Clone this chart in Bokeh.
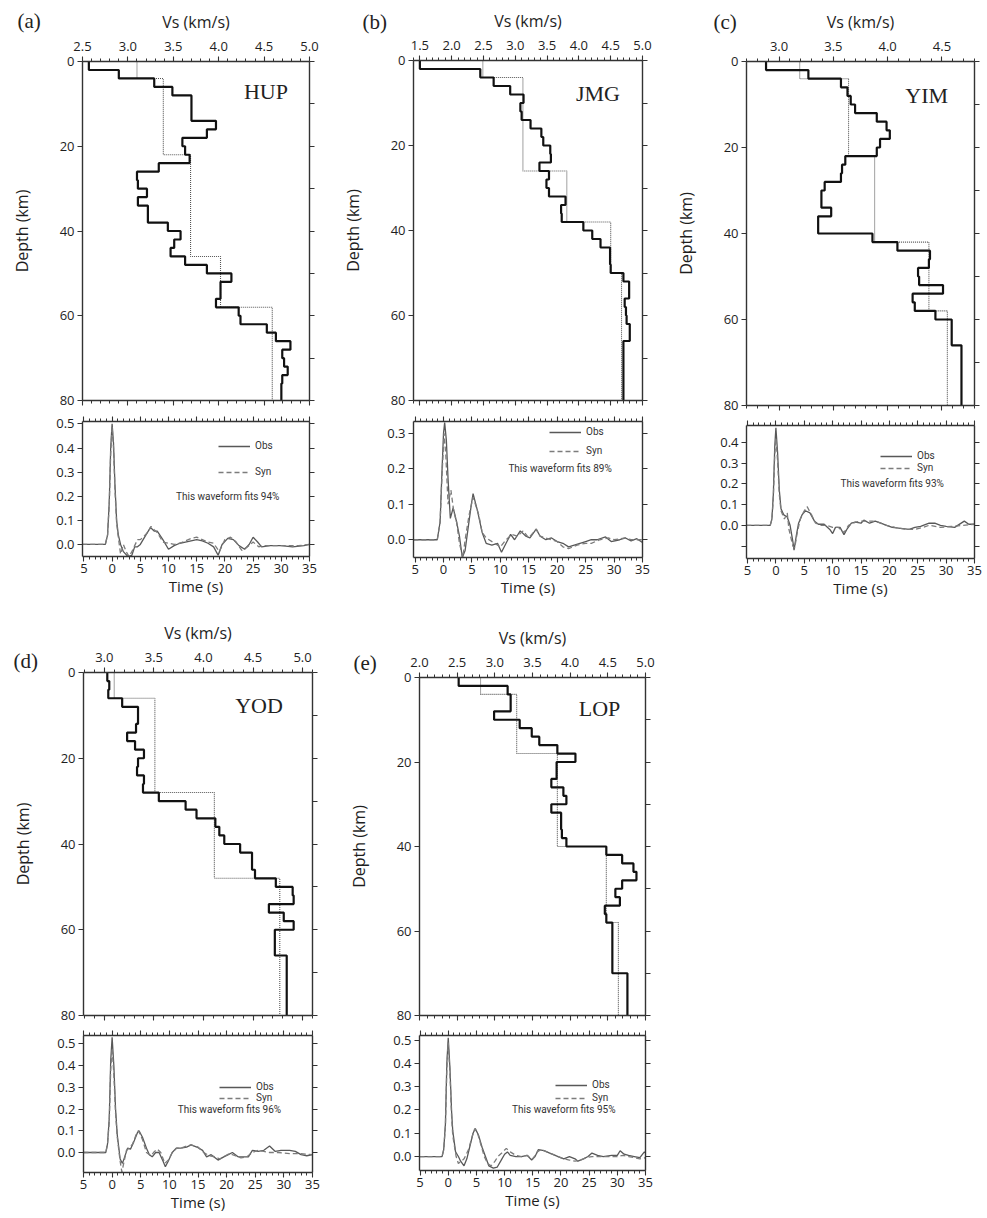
from bokeh.plotting import figure
from bokeh.layouts import row, column
from bokeh.models import (Range1d, LinearAxis, SingleIntervalTicker, FixedTicker,
                          CustomJSTickFormatter, CustomLabelingPolicy, Label, Legend, LegendItem)
from bokeh.embed import file_html
from bokeh.resources import INLINE

# ======================= DATA =======================
DEPTH_TICKS = [0, 20, 40, 60, 80]
DEPTH_RIGHT_TICKS = [0, 10, 20, 30, 40, 50, 60, 70, 80]
MODEL_BOTTOM = 80

# ---- (a) HUP ----
hup_obs_top = [0, 2, 4, 6, 8, 14, 16, 18, 20, 22, 24, 26, 28, 30, 32, 34, 38, 40, 42, 44, 46, 48, 50, 52, 56, 58, 60, 62, 64, 66, 68, 70, 72, 74, 76]
hup_obs_vs = [2.57, 2.90, 3.29, 3.49, 3.70, 3.97, 3.87, 3.60, 3.63, 3.68, 3.34, 3.10, 3.11, 3.21, 3.11, 3.22, 3.44, 3.58, 3.51, 3.47, 3.63, 3.87, 4.14, 4.02, 3.97, 4.22, 4.24, 4.53, 4.63, 4.79, 4.70, 4.72, 4.76, 4.70, 4.69]
hup_syn_top = [0, 4, 22, 46, 58]
hup_syn_vs = [3.10, 3.39, 3.69, 4.02, 4.59]
hup_t_obs = [-5.3, -1.2, -0.8, -0.5, -0.25, 0.0, 0.25, 0.5, 0.8, 1.1, 1.5, 2.0, 2.8, 3.5, 4.0, 4.5, 5.0, 6.0, 6.8, 7.5, 8.0, 9.0, 10.0, 11.0, 12.0, 13.0, 14.0, 15.0, 16.0, 17.0, 18.0, 18.8, 19.5, 20.5, 21.5, 22.5, 23.5, 24.3, 25.0, 25.8, 26.5, 28.0, 30.0, 32.0, 34.0, 35.0]
hup_a_obs = [0, 0, 0.04, 0.18, 0.40, 0.50, 0.42, 0.25, 0.10, 0.04, 0.0, -0.03, -0.05, -0.045, -0.01, -0.01, 0.0, 0.04, 0.07, 0.055, 0.055, 0.02, -0.02, -0.005, 0.005, 0.01, 0.015, 0.02, 0.015, 0.005, -0.01, -0.045, 0.0, 0.025, 0.02, -0.005, -0.02, 0.0, 0.03, 0.01, -0.01, -0.005, -0.005, -0.01, -0.005, 0.0]
hup_t_syn = [-5.3, -1.2, -0.8, -0.5, -0.25, 0.0, 0.25, 0.5, 0.8, 1.1, 1.5, 2.0, 2.5, 3.0, 3.5, 4.5, 5.0, 5.5, 6.3, 6.9, 7.5, 8.0, 9.0, 10.0, 11.0, 12.0, 13.0, 14.0, 15.0, 16.0, 17.0, 18.0, 19.0, 20.0, 21.0, 22.0, 23.0, 24.0, 25.0, 26.0, 27.0, 30.0, 33.0, 35.0]
hup_a_syn = [0, 0, 0.04, 0.17, 0.38, 0.49, 0.40, 0.23, 0.09, 0.03, -0.04, 0.0, -0.03, -0.05, -0.03, 0.02, 0.02, 0.03, 0.05, 0.075, 0.06, 0.05, 0.01, 0.005, 0.0, 0.005, 0.015, 0.025, 0.03, 0.02, 0.01, 0.005, -0.03, 0.02, 0.03, 0.01, -0.025, -0.01, 0.01, -0.01, -0.005, -0.005, -0.005, 0.0]
hup_fit = "This waveform fits 94%"

# ---- (b) JMG ----
jmg_obs_top = [0, 2, 4, 6, 8, 10, 12, 14, 16, 18, 20, 22, 24, 26, 28, 30, 32, 34, 36, 38, 40, 42, 44, 48, 50, 52, 56, 58, 60, 62, 66]
jmg_obs_vs = [1.50, 2.45, 2.66, 2.92, 3.13, 3.08, 3.10, 3.24, 3.41, 3.44, 3.55, 3.56, 3.38, 3.53, 3.49, 3.53, 3.79, 3.72, 3.73, 4.07, 4.21, 4.34, 4.49, 4.50, 4.70, 4.79, 4.72, 4.74, 4.75, 4.80, 4.70]
jmg_syn_top = [0, 4, 26, 38, 50]
jmg_syn_vs = [2.49, 3.12, 3.81, 4.50, 4.67]
jmg_t_obs = [-5.3, -1.1, -0.6, -0.3, 0.0, 0.2, 0.5, 0.8, 1.2, 1.7, 2.3, 2.8, 3.3, 3.8, 4.3, 4.9, 5.2, 6.0, 6.8, 7.5, 8.5, 9.5, 10.2, 11.0, 11.8, 12.5, 13.5, 14.5, 15.2, 16.3, 17.0, 18.0, 19.0, 20.0, 21.0, 22.0, 23.0, 24.0, 25.0, 26.0, 27.0, 28.5, 29.5, 31.0, 32.0, 33.0, 34.0, 35.0]
jmg_a_obs = [0, 0, 0.05, 0.18, 0.30, 0.33, 0.28, 0.17, 0.06, 0.09, 0.05, 0.01, -0.05, -0.03, 0.03, 0.10, 0.13, 0.08, 0.02, -0.01, -0.015, -0.01, -0.035, -0.01, 0.015, 0.0, 0.025, 0.01, 0.005, 0.03, 0.01, 0.0, 0.005, -0.005, -0.01, -0.02, -0.015, -0.01, -0.005, 0.0, 0.0, 0.008, -0.005, 0.0, 0.005, -0.003, 0.003, -0.008]
jmg_t_syn = [-5.3, -1.1, -0.6, -0.3, 0.1, 0.4, 0.8, 1.3, 1.8, 2.3, 2.8, 3.4, 3.8, 4.5, 5.2, 6.2, 6.8, 7.5, 9.0, 10.0, 11.0, 12.0, 13.0, 14.0, 15.0, 16.3, 17.0, 18.0, 19.0, 20.0, 21.0, 22.0, 23.5, 25.0, 26.0, 27.5, 29.0, 30.0, 32.0, 33.0, 35.0]
jmg_a_syn = [0, 0, 0.05, 0.17, 0.30, 0.24, 0.10, 0.14, 0.08, 0.05, -0.01, -0.05, 0.0, 0.07, 0.12, 0.07, 0.02, 0.005, -0.01, -0.02, 0.0, 0.015, 0.01, 0.025, 0.005, 0.03, 0.01, 0.005, 0.0, -0.005, -0.02, -0.025, -0.015, -0.01, -0.01, 0.0, 0.005, 0.0, 0.005, 0.0, 0.0]
jmg_fit = "This waveform fits 89%"

# ---- (c) YIM ----
yim_obs_top = [0, 2, 4, 6, 8, 10, 12, 14, 16, 18, 20, 22, 24, 26, 28, 30, 32, 34, 36, 40, 42, 44, 46, 48, 50, 52, 54, 56, 58, 60, 66]
yim_obs_vs = [2.88, 3.27, 3.57, 3.63, 3.66, 3.70, 3.90, 3.99, 4.02, 3.93, 3.90, 3.61, 3.58, 3.57, 3.42, 3.39, 3.39, 3.48, 3.36, 3.86, 4.09, 4.39, 4.38, 4.28, 4.29, 4.51, 4.23, 4.25, 4.44, 4.59, 4.68]
yim_syn_top = [0, 4, 22, 42, 58]
yim_syn_vs = [3.19, 3.64, 3.88, 4.38, 4.55]
yim_t_obs = [-5.2, -1.0, -0.7, -0.45, -0.2, 0.0, 0.3, 0.6, 0.9, 1.4, 2.0, 2.5, 3.0, 3.2, 3.6, 4.0, 4.6, 5.2, 6.0, 6.8, 7.5, 8.5, 9.5, 10.0, 10.5, 11.3, 12.0, 12.5, 13.3, 14.0, 15.0, 15.5, 16.5, 17.5, 18.5, 19.5, 20.5, 22.0, 23.5, 24.5, 25.5, 27.0, 28.0, 29.0, 30.0, 31.5, 33.2, 34.0, 35.0]
yim_a_obs = [0, 0, 0.03, 0.15, 0.38, 0.47, 0.35, 0.17, 0.08, 0.05, 0.04, 0.0, -0.08, -0.12, -0.05, 0.01, 0.05, 0.07, 0.06, 0.02, 0.005, 0.005, -0.02, -0.04, -0.01, -0.01, -0.045, -0.02, 0.01, 0.015, 0.01, 0.025, 0.01, 0.02, 0.01, 0.0, -0.01, -0.015, -0.02, -0.01, -0.005, 0.01, 0.01, 0.0, -0.005, -0.01, 0.02, 0.005, 0.005]
yim_t_syn = [-5.2, -1.0, -0.7, -0.45, -0.2, 0.0, 0.3, 0.6, 0.9, 1.5, 2.0, 2.3, 3.0, 3.3, 3.8, 4.3, 5.0, 5.5, 6.3, 7.0, 8.0, 9.0, 10.0, 11.0, 12.0, 12.8, 14.0, 15.0, 16.0, 17.0, 18.0, 19.5, 21.0, 23.0, 24.5, 26.0, 27.0, 29.0, 31.0, 33.0, 35.0]
yim_a_syn = [0, 0, 0.03, 0.13, 0.34, 0.42, 0.31, 0.15, 0.07, 0.03, 0.06, -0.02, -0.10, -0.11, -0.03, 0.03, 0.07, 0.09, 0.05, 0.01, 0.0, 0.0, -0.01, -0.01, -0.035, 0.0, 0.015, 0.02, 0.02, 0.02, 0.015, 0.0, -0.01, -0.02, -0.02, -0.01, 0.0, -0.01, -0.005, 0.0, 0.005]
yim_fit = "This waveform fits 93%"

# ---- (d) YOD ----
yod_obs_top = [0, 2, 4, 6, 8, 12, 14, 16, 18, 20, 22, 24, 26, 28, 30, 32, 34, 36, 38, 40, 42, 46, 48, 50, 52, 54, 56, 58, 60, 66]
yod_obs_vs = [3.03, 3.05, 3.04, 3.18, 3.34, 3.32, 3.23, 3.31, 3.40, 3.34, 3.33, 3.40, 3.39, 3.55, 3.82, 3.93, 4.12, 4.16, 4.21, 4.37, 4.49, 4.52, 4.73, 4.90, 4.91, 4.66, 4.81, 4.91, 4.72, 4.84]
yod_syn_top = [0, 6, 28, 48]
yod_syn_vs = [3.10, 3.51, 4.11, 4.77]
yod_t_obs = [-5.0, -1.1, -0.8, -0.5, -0.25, 0.0, 0.3, 0.6, 0.9, 1.4, 1.8, 2.2, 2.7, 3.2, 3.8, 4.4, 4.7, 5.3, 6.0, 6.5, 7.0, 7.6, 8.2, 8.9, 9.3, 9.8, 10.5, 11.2, 12.0, 13.0, 13.8, 14.8, 15.8, 16.5, 17.3, 18.5, 19.5, 20.3, 21.0, 22.0, 23.0, 23.8, 24.5, 25.5, 26.5, 27.5, 28.5, 29.5, 31.0, 32.0, 33.0, 34.0, 35.0]
yod_a_obs = [0, 0, 0.04, 0.16, 0.42, 0.53, 0.40, 0.20, 0.08, -0.03, -0.05, -0.02, 0.02, 0.015, 0.05, 0.09, 0.10, 0.07, 0.02, -0.01, -0.02, 0.0, 0.0, -0.04, -0.065, -0.04, 0.0, 0.02, 0.02, 0.025, 0.035, 0.025, 0.01, -0.02, -0.01, -0.035, -0.02, -0.01, 0.0, -0.02, -0.02, -0.02, 0.01, 0.005, 0.01, 0.03, 0.005, 0.01, 0.01, 0.005, -0.01, -0.015, -0.01]
yod_t_syn = [-5.0, -1.1, -0.8, -0.5, -0.25, 0.0, 0.3, 0.6, 0.9, 1.4, 1.7, 2.1, 2.5, 3.0, 3.6, 4.3, 4.6, 5.3, 6.0, 6.8, 7.4, 7.9, 8.5, 9.2, 9.8, 10.5, 11.3, 12.0, 13.0, 13.8, 15.0, 16.0, 17.0, 18.0, 18.8, 19.8, 20.5, 21.5, 22.5, 23.5, 24.5, 25.5, 26.5, 27.5, 29.0, 31.0, 33.0, 35.0]
yod_a_syn = [0, 0, 0.04, 0.14, 0.38, 0.48, 0.36, 0.18, 0.07, -0.04, -0.09, -0.04, 0.01, 0.02, 0.04, 0.09, 0.10, 0.06, 0.0, -0.015, 0.005, 0.015, 0.0, -0.05, -0.035, 0.0, 0.02, 0.02, 0.03, 0.035, 0.025, 0.0, -0.015, -0.02, -0.03, -0.015, -0.005, -0.015, -0.025, -0.02, 0.0, 0.01, 0.005, 0.0, 0.0, -0.005, -0.005, -0.01]
yod_fit = "This waveform fits 96%"

# ---- (e) LOP ----
lop_obs_top = [0, 2, 4, 8, 10, 12, 14, 16, 18, 20, 24, 26, 28, 30, 32, 36, 38, 40, 42, 44, 46, 48, 50, 52, 54, 56, 58, 70]
lop_obs_vs = [2.52, 3.17, 3.21, 2.99, 3.33, 3.49, 3.59, 3.83, 4.07, 3.82, 3.75, 3.91, 3.95, 3.75, 3.88, 3.89, 3.95, 4.48, 4.69, 4.84, 4.88, 4.69, 4.60, 4.66, 4.46, 4.48, 4.56, 4.76]
lop_syn_top = [0, 4, 18, 40, 58]
lop_syn_vs = [2.81, 3.29, 3.83, 4.48, 4.64]
lop_t_obs = [-5.1, -1.1, -0.8, -0.5, -0.25, 0.0, 0.3, 0.6, 0.8, 1.3, 1.8, 2.2, 2.8, 3.3, 3.8, 4.4, 4.8, 5.4, 6.0, 6.6, 7.2, 8.0, 8.7, 9.3, 10.0, 10.5, 11.0, 12.0, 13.0, 14.0, 14.8, 15.4, 16.0, 17.0, 18.0, 19.5, 20.5, 21.5, 22.5, 23.0, 24.0, 24.8, 25.5, 26.5, 27.5, 29.0, 30.0, 30.5, 31.2, 32.0, 33.0, 34.0, 34.8, 35.0]
lop_a_obs = [0, 0, 0.03, 0.14, 0.40, 0.51, 0.38, 0.19, 0.11, 0.02, 0.0, -0.02, -0.04, -0.01, 0.04, 0.10, 0.12, 0.09, 0.04, 0.0, -0.04, -0.05, -0.045, -0.02, 0.01, 0.02, 0.005, 0.0, 0.0, 0.005, -0.015, 0.0, 0.03, 0.025, 0.015, 0.0, -0.01, 0.0, -0.01, -0.02, -0.01, 0.0, 0.015, 0.005, 0.0, 0.005, 0.005, 0.025, 0.01, 0.005, 0.0, -0.005, 0.02, 0.015]
lop_t_syn = [-5.1, -1.1, -0.8, -0.5, -0.25, 0.0, 0.3, 0.6, 0.8, 1.4, 1.8, 2.3, 2.8, 3.6, 4.3, 4.7, 5.2, 5.8, 6.4, 7.0, 7.6, 8.3, 8.8, 9.5, 10.3, 11.0, 12.0, 13.0, 14.0, 15.0, 15.8, 16.5, 17.5, 18.5, 19.5, 20.5, 21.5, 22.5, 23.5, 24.5, 25.5, 26.5, 28.0, 30.0, 31.0, 32.0, 33.0, 34.0, 35.0]
lop_a_syn = [0, 0, 0.03, 0.13, 0.38, 0.49, 0.36, 0.17, 0.09, 0.0, -0.03, -0.02, -0.01, 0.03, 0.09, 0.12, 0.10, 0.05, 0.0, -0.03, -0.04, -0.02, 0.0, 0.015, 0.035, 0.02, 0.005, 0.0, 0.005, -0.01, 0.02, 0.03, 0.02, 0.01, 0.0, -0.01, -0.015, -0.02, -0.015, -0.005, 0.0, 0.0, 0.0, 0.0, 0.005, 0.0, -0.005, -0.01, -0.005]
lop_fit = "This waveform fits 95%"

# ======================= STYLE / LAYOUT =======================
SANS = "Open Sans"
SMALL = "Roboto"
SERIF = "Liberation Serif"
AX = "#333333"
TXT = "#1e1e1e"
NO_LABELS = "if (false) { yield 0 }"


def step_xy(tops, vs, bottom=MODEL_BOTTOM):
    xs, ys = [], []
    for i, v in enumerate(vs):
        b = tops[i + 1] if i + 1 < len(tops) else bottom
        xs += [v, v]
        ys += [tops[i], b]
    return xs, ys


def style_axis(ax, labels=True, major_out=5, minor_out=3, standoff=4):
    ax.axis_line_color = AX
    ax.axis_line_width = 1.4
    ax.major_tick_line_color = AX
    ax.minor_tick_line_color = AX
    ax.major_tick_line_width = 1.1
    ax.minor_tick_line_width = 1.0
    ax.major_tick_in = 0
    ax.minor_tick_in = 0
    ax.major_tick_out = major_out
    ax.minor_tick_out = minor_out
    ax.major_label_text_font = SANS
    ax.major_label_text_color = TXT
    ax.axis_label_text_font = SANS
    ax.axis_label_text_font_style = "normal"
    ax.axis_label_text_color = TXT
    if labels:
        ax.major_label_text_font_size = "13px"
        ax.major_label_standoff = standoff
    else:
        ax.major_label_text_font_size = "1px"
        ax.major_label_standoff = 0
        ax.major_label_policy = CustomLabelingPolicy(code=NO_LABELS)


def make_profile(size, xr, obs_top, obs_vs, syn_top, syn_vs, station, st_xy, tag, tag_offset, tag_cut):
    W, H, bl, br, bt, bb = size
    p = figure(width=W, height=H, x_range=Range1d(*xr), y_range=Range1d(MODEL_BOTTOM, 0),
               x_axis_location="above", output_backend="svg", toolbar_location=None, tools="",
               title=tag, min_border_left=bl, min_border_right=br, min_border_top=bt, min_border_bottom=bb)
    p.outline_line_color = None
    p.xgrid.visible = False
    p.ygrid.visible = False

    # panel tag, drawn as the plot title and pulled down beside the top axis
    p.title.align = "left"
    p.title.offset = tag_offset
    p.title.vertical_align = "top"
    p.title.standoff = tag_cut
    p.title.text_font = SERIF
    p.title.text_font_size = "21px"
    p.title.text_font_style = "normal"
    p.title.text_color = "#222222"
    p.title.text_line_height = 1.45

    sx, sy = step_xy(syn_top, syn_vs)
    p.line(sx, sy, line_color="#555555", line_width=1.1, line_dash="1 1")
    ox, oy = step_xy(obs_top, obs_vs)
    p.line(ox, oy, line_color="#111111", line_width=2.2)

    top = p.xaxis[0]
    top.ticker = SingleIntervalTicker(interval=0.5, num_minor_ticks=5)
    top.formatter = CustomJSTickFormatter(code="return tick.toFixed(1);")
    top.axis_label = "Vs (km/s)"
    style_axis(top, standoff=6)
    top.axis_label_text_font_size = "16px"
    top.axis_label_standoff = 6

    bottom = LinearAxis(ticker=SingleIntervalTicker(interval=0.5, num_minor_ticks=5))
    style_axis(bottom, labels=False)
    p.add_layout(bottom, "below")

    left = p.yaxis[0]
    left.ticker = FixedTicker(ticks=DEPTH_TICKS)
    left.axis_label = "Depth (km)"
    style_axis(left, standoff=3)
    left.axis_label_text_font_size = "16px"
    left.axis_label_standoff = 24

    right = LinearAxis(ticker=FixedTicker(ticks=DEPTH_RIGHT_TICKS))
    style_axis(right, labels=False)
    p.add_layout(right, "right")

    p.add_layout(Label(x=st_xy[0], y=st_xy[1], text=station, text_font=SERIF,
                       text_font_size="22px", text_color="#222222",
                       text_align="center", text_baseline="middle"))
    return p


def make_wave(size, xr, yr, t_obs, a_obs, t_syn, a_syn, fit, leg_loc, leg_spacing):
    W, H, bl, br, bt, bb = size
    w = figure(width=W, height=H, x_range=Range1d(*xr), y_range=Range1d(*yr),
               output_backend="svg", toolbar_location=None, tools="",
               min_border_left=bl, min_border_right=br, min_border_top=bt, min_border_bottom=bb)
    w.outline_line_color = None
    w.xgrid.visible = False
    w.ygrid.visible = False
    ro = w.line(t_obs, a_obs, line_color="#585858", line_width=1.3)
    rs = w.line(t_syn, a_syn, line_color="#7c7c7c", line_width=1.3, line_dash="5 3")

    bottom = w.xaxis[0]
    bottom.ticker = SingleIntervalTicker(interval=5, num_minor_ticks=5)
    bottom.formatter = CustomJSTickFormatter(code="return Math.abs(Math.round(tick)).toString();")
    bottom.axis_label = "Time (s)"
    style_axis(bottom, standoff=2)
    bottom.axis_label_text_font_size = "15px"
    bottom.axis_label_standoff = 0

    top = LinearAxis(ticker=SingleIntervalTicker(interval=5, num_minor_ticks=5))
    style_axis(top, labels=False)
    w.add_layout(top, "above")

    left = w.yaxis[0]
    left.ticker = SingleIntervalTicker(interval=0.1, num_minor_ticks=0)
    left.formatter = CustomJSTickFormatter(code="return tick < -0.001 ? '' : tick.toFixed(1);")
    style_axis(left, standoff=3)

    right = LinearAxis(ticker=SingleIntervalTicker(interval=0.1, num_minor_ticks=0))
    style_axis(right, labels=False)
    w.add_layout(right, "right")

    leg = Legend(items=[LegendItem(label="Obs", renderers=[ro]),
                        LegendItem(label="Syn", renderers=[rs])],
                 location=leg_loc, orientation="vertical")
    leg.border_line_color = None
    leg.background_fill_alpha = 0
    leg.padding = 0
    leg.margin = 0
    leg.spacing = leg_spacing
    leg.glyph_width = 32
    leg.glyph_height = 10
    leg.label_height = 10
    leg.label_standoff = 5
    leg.label_text_font = SMALL
    leg.label_text_font_size = "10px"
    leg.label_text_color = "#333333"
    leg.label_text_baseline = "middle"
    w.add_layout(leg)

    w.add_layout(Label(x=20.5, y=0.2, text=fit, text_font=SMALL, text_font_size="10px",
                       text_color="#333333", text_align="center", text_baseline="middle"))
    return w


pa = make_profile((330, 410, 82, 21, 61, 8), (2.5, 5.0), hup_obs_top, hup_obs_vs, hup_syn_top, hup_syn_vs,
                  "HUP", (4.52, 7.0), "\n(a)", -65, -55)
wa = make_wave((330, 190, 39, 21, 11, 44), (-5.25, 35), (-0.05, 0.51), hup_t_obs, hup_a_obs,
               hup_t_syn, hup_a_syn, hup_fit, (136, 79), 15)

pb = make_profile((330, 410, 83, 18, 60, 8), (1.4, 5.0), jmg_obs_top, jmg_obs_vs, jmg_syn_top, jmg_syn_vs,
                  "JMG", (4.30, 7.7), "\n(b)", -51, -59)
wb = make_wave((330, 190, 42, 17, 11, 43), (-5.28, 35), (-0.05, 0.333), jmg_t_obs, jmg_a_obs,
               jmg_t_syn, jmg_a_syn, jmg_fit, (136, 101), 8)

pc = make_profile((327, 415, 86, 13, 61, 8), (2.7, 4.8), yim_obs_top, yim_obs_vs, yim_syn_top, yim_syn_vs,
                  "YIM", (4.36, 7.9), "\n(c)", -33, -57)
wc = make_wave((327, 185, 51, 10, 9, 36), (-5.18, 35), (-0.16, 0.481), yim_t_obs, yim_a_obs,
               yim_t_syn, yim_a_syn, yim_fit, (134, 85), 1)

pd_ = make_profile((330, 425, 83, 18, 72, 10), (2.79, 5.10), yod_obs_top, yod_obs_vs, yod_syn_top, yod_syn_vs,
                   "YOD", (4.56, 7.8), "\n\n\n(d)", -70, -113)
wd = make_wave((330, 193, 40, 18, 10, 46), (-5.0, 35), (-0.092, 0.538), yod_t_obs, yod_a_obs,
               yod_t_syn, yod_a_syn, yod_fit, (136, 69), 0)

pe = make_profile((330, 425, 89, 15, 77, 10), (2.0, 5.0), lop_obs_top, lop_obs_vs, lop_syn_top, lop_syn_vs,
                  "LOP", (4.39, 7.3), "\n\n\n(e)", -66, -107)
we = make_wave((330, 193, 45, 15, 9, 48), (-5.1, 35), (-0.06, 0.52), lop_t_obs, lop_a_obs,
               lop_t_syn, lop_a_syn, lop_fit, (136, 67), 2)

layout = column(
    row(column(pa, wa), column(pb, wb), column(pc, wc)),
    row(column(pd_, wd), column(pe, we)),
)

open("out.html", "w").write(file_html(layout, INLINE))
